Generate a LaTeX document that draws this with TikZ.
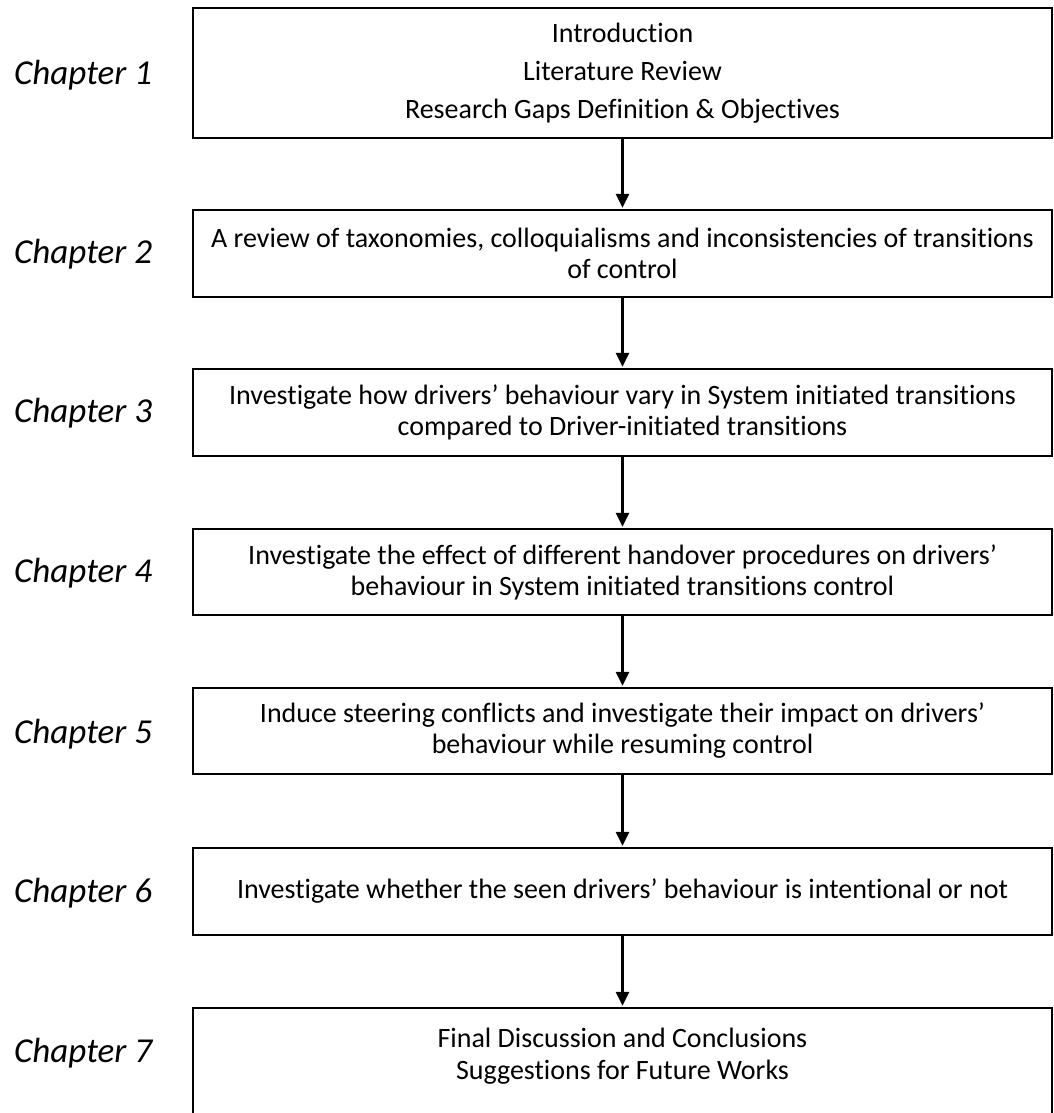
\documentclass[tikz,border=0pt]{standalone}
\usepackage{fontspec}
\setmainfont[Ligatures=NoCommon]{Carlito}
\usetikzlibrary{arrows.meta}
\begin{document}
\begin{tikzpicture}[x=1pt,y=-1pt,
  stagebox/.style={draw=black,line width=2.4pt,minimum width=859pt,inner sep=0pt,
    align=center,font=\fontsize{28}{31}\selectfont},
  chaplabel/.style={font=\fontsize{35}{40}\selectfont\itshape,anchor=west,inner sep=0pt},
  flow/.style={line width=3pt,-{Triangle[length=14pt,width=13pt]},shorten >=1pt}]
\useasboundingbox (0,0) rectangle (1053,1113);

\node[stagebox,minimum height=130pt] (b1) at (622.5,73)
  {Introduction\\[7pt]Literature Review\\[7pt]Research Gaps Definition \& Objectives};
\node[stagebox,minimum height=87pt] (b2) at (622.5,253.5)
  {A review of taxonomies, colloquialisms and inconsistencies of transitions\\of control};
\node[stagebox,minimum height=87pt] (b3) at (622.5,412.5)
  {Investigate how drivers’ behaviour vary in System initiated transitions\\compared to Driver-initiated transitions};
\node[stagebox,minimum height=86pt] (b4) at (622.5,572)
  {Investigate the effect of different handover procedures on drivers’\\behaviour in System initiated transitions control};
\node[stagebox,minimum height=86pt] (b5) at (622.5,731)
  {Induce steering conflicts and investigate their impact on drivers’\\behaviour while resuming control};
\node[stagebox,minimum height=87pt] (b6) at (622.5,891.5)
  {Investigate whether the seen drivers’ behaviour is intentional or not};
\node[stagebox,minimum height=140pt] (b7) at (622.5,1078) {};
\node[font=\fontsize{28}{32}\selectfont,align=center,inner sep=0pt] (t7) at (622.5,1056)
  {Final Discussion and Conclusions\\Suggestions for Future Works};

\node[chaplabel] (c1) at (14,75) {Chapter 1};
\node[chaplabel] (c2) at (14,254) {Chapter 2};
\node[chaplabel] (c3) at (14,413) {Chapter 3};
\node[chaplabel] (c4) at (14,573) {Chapter 4};
\node[chaplabel] (c5) at (14,734) {Chapter 5};
\node[chaplabel] (c6) at (14,893) {Chapter 6};
\node[chaplabel] (c7) at (14,1053) {Chapter 7};

\draw[flow] (b1.south) -- (b2.north);
\draw[flow] (b2.south) -- (b3.north);
\draw[flow] (b3.south) -- (b4.north);
\draw[flow] (b4.south) -- (b5.north);
\draw[flow] (b5.south) -- (b6.north);
\draw[flow] (b6.south) -- (b7.north);
\end{tikzpicture}
\end{document}
